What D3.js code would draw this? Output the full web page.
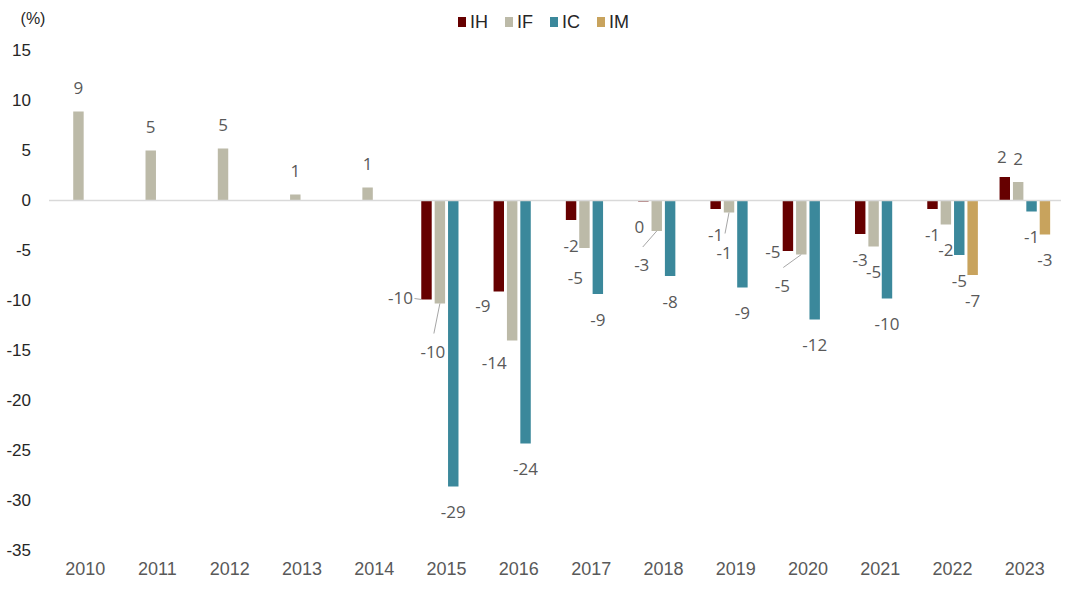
<!DOCTYPE html>
<html>
<head>
<meta charset="utf-8">
<script src="https://cdn.jsdelivr.net/npm/d3@7"></script>
<style>
  html, body { margin: 0; padding: 0; background: #ffffff; }
  svg { display: block; }
</style>
</head>
<body>
<svg id="chart" width="1080" height="600"></svg>
<script>
// ---- data ----
const years = ["2010","2011","2012","2013","2014","2015","2016","2017","2018","2019","2020","2021","2022","2023"];
const seriesNames = ["IH","IF","IC","IM"];
const IH = [null, null, null, null, null, -9.9, -9.1, -1.95, -0.1, -0.85, -5.05, -3.35, -0.85, 2.35];
const IF = [8.9, 5.0, 5.2, 0.6, 1.3, -10.3, -14.0, -4.75, -3.05, -1.2, -5.4, -4.6, -2.4, 1.85];
const IC = [null, null, null, null, null, -28.6, -24.3, -9.35, -7.55, -8.7, -11.9, -9.8, -5.45, -1.1];
const IM = [null, null, null, null, null, null, null, null, null, null, null, null, -7.45, -3.4];
const yTicks = [15, 10, 5, 0, -5, -10, -15, -20, -25, -30, -35];
const unitLabel = "(%)";

// ---- styles ----
const colors = { IH: "#660000", IF: "#bcbaa8", IC: "#3b889b", IM: "#c8a35d" };
// label nudges (pixels) relative to default label position; optional leader [labelDx, labelDy, barDx]
const nudges = {
  "2015-IH": { dx: -26, dy: -27, leader: [14, 1, -5] },
  "2015-IF": { dx: -7, dy: 23, leader: [1, -18, 0] },
  "2016-IH": { dx: -16, dy: -11 },
  "2016-IF": { dx: -18, dy: -3 },
  "2017-IF": { dx: -9, dy: 4 },
  "2018-IH": { dx: -4, dy: 0 },
  "2018-IF": { dx: -15, dy: 8, leader: [1, -17, 0] },
  "2019-IF": { dx: -5, dy: 15, leader: [1, -19, 0] },
  "2020-IH": { dx: -15, dy: -25 },
  "2020-IF": { dx: -19, dy: 6, leader: [1, -18, 0] },
  "2023-IH": { dx: -3, dy: 3 }
};

const seriesData = { IH, IF, IC, IM };
const svg = d3.select("#chart");

const x0 = d3.scaleBand().domain(years).range([49, 1061]).paddingInner(0.3).paddingOuter(0.15);
const x1 = d3.scaleBand().domain(seriesNames).range([0, x0.bandwidth()]).paddingInner(0.22).paddingOuter(0);
const y = d3.scaleLinear().domain([-35, 15]).range([550.5, 50.5]);

// y-axis labels
const yAxis = d3.axisLeft(y).tickValues(yTicks).tickSize(0).tickPadding(0).tickFormat(d => String(d));
const yG = svg.append("g").attr("transform", "translate(31,0)").call(yAxis);
yG.select(".domain").remove();
yG.selectAll("text")
  .attr("font-family", "'Liberation Sans', Arial, sans-serif")
  .attr("font-size", 17)
  .attr("fill", "#262626");

// x-axis labels
const xAxis = d3.axisBottom(x0).tickSize(0).tickPadding(0);
const xG = svg.append("g").attr("transform", "translate(0,562)").call(xAxis);
xG.select(".domain").remove();
xG.selectAll("text")
  .attr("font-family", "'Liberation Sans', Arial, sans-serif")
  .attr("font-size", 18)
  .attr("fill", "#595959");

// unit label
svg.append("text")
  .attr("x", 33).attr("y", 24)
  .attr("text-anchor", "middle")
  .attr("font-family", "'Liberation Sans', Arial, sans-serif")
  .attr("font-size", 16)
  .attr("fill", "#262626")
  .text(unitLabel);

// flatten data
const recs = [];
years.forEach((yr, i) => {
  seriesNames.forEach(s => {
    const v = seriesData[s][i];
    if (v !== null && v !== undefined) recs.push({ year: yr, series: s, value: v });
  });
});

// bars
svg.append("g").selectAll("rect").data(recs).join("rect")
  .attr("x", d => x0(d.year) + x1(d.series))
  .attr("width", x1.bandwidth())
  .attr("y", d => Math.min(y(d.value), y(0)))
  .attr("height", d => Math.abs(y(d.value) - y(0)))
  .attr("fill", d => colors[d.series]);

// zero line
svg.append("line")
  .attr("x1", 49).attr("x2", 1061)
  .attr("y1", y(0)).attr("y2", y(0))
  .attr("stroke", "#d9d9d9").attr("stroke-width", 1.3);

// labels
const labelPos = d => {
  const n = nudges[d.year + "-" + d.series] || { dx: 0, dy: 0 };
  const bx = x0(d.year) + x1(d.series) + x1.bandwidth() / 2;
  const by = y(d.value);
  const lx = bx + n.dx;
  const ly = (d.value >= 0 ? by - 24 : by + 25) + n.dy;
  return { bx, by, lx, ly, n };
};

// leader lines
svg.append("g").selectAll("line")
  .data(recs.filter(d => nudges[d.year + "-" + d.series] && nudges[d.year + "-" + d.series].leader))
  .join("line")
  .attr("x1", d => { const p = labelPos(d); return p.lx + p.n.leader[0]; })
  .attr("y1", d => { const p = labelPos(d); return p.ly + p.n.leader[1]; })
  .attr("x2", d => { const p = labelPos(d); return p.bx + p.n.leader[2]; })
  .attr("y2", d => labelPos(d).by)
  .attr("stroke", "#a6a6a6").attr("stroke-width", 1);

svg.append("g").selectAll("text").data(recs).join("text")
  .attr("x", d => labelPos(d).lx)
  .attr("y", d => labelPos(d).ly)
  .attr("text-anchor", "middle")
  .attr("dominant-baseline", "central")
  .attr("font-family", "'Open Sans', 'Noto Sans', sans-serif")
  .attr("font-size", 17)
  .attr("fill", "#595959")
  .text(d => String(Math.round(d.value)));

// legend
const leg = svg.append("g");
let lx = 458;
seriesNames.forEach(s => {
  leg.append("rect").attr("x", lx).attr("y", 17).attr("width", 8).attr("height", 10).attr("fill", colors[s]);
  const t = leg.append("text")
    .attr("x", lx + 12).attr("y", 22)
    .attr("dominant-baseline", "central")
    .attr("font-family", "'Liberation Sans', Arial, sans-serif")
    .attr("font-size", 18)
    .attr("fill", "#262626")
    .text(s);
  lx += 12 + t.node().getComputedTextLength() + 17;
});
</script>
</body>
</html>
